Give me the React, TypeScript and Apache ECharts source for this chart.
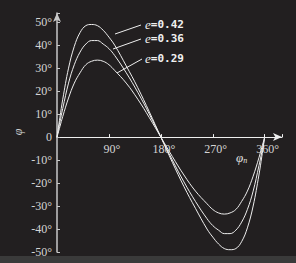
import React, { useEffect, useRef } from "react";
import * as echarts from "echarts";

// mean anomaly φn (deg)
const phiN = [0, 5, 10, 20, 30, 40, 50, 60, 70, 80, 90, 100, 120, 140, 160, 180, 200, 220, 240, 260, 270, 280, 290, 300, 310, 320, 330, 340, 350, 355, 360];
// φ (deg) for each eccentricity
const e042 = [0, 8.5, 16.5, 30, 39.5, 45.5, 48.5, 49, 48.5, 46.5, 43.5, 40, 31, 21.5, 11, 0, -11, -21.5, -31, -40, -43.5, -46.5, -48.5, -49, -48.5, -45.5, -39.5, -30, -16.5, -8.5, 0];
const e036 = [0, 6.5, 12.5, 23.5, 31.5, 37, 40.5, 42, 42, 40.5, 38.5, 35.5, 28, 19.5, 10, 0, -10, -19.5, -28, -35.5, -38.5, -40.5, -42, -42, -40.5, -37, -31.5, -23.5, -12.5, -6.5, 0];
const e029 = [0, 4.5, 9, 17, 23.5, 28, 31.5, 33, 33.5, 33, 31.5, 29, 23.5, 16.5, 8.5, 0, -8.5, -16.5, -23.5, -29, -31.5, -33, -33.5, -33, -31.5, -28, -23.5, -17, -9, -4.5, 0];
const seriesNames = ["e=0.42", "e=0.36", "e=0.29"];
const yTicks = [-50, -40, -30, -20, -10, 0, 10, 20, 30, 40, 50];
const xTicks = [90, 180, 270, 360];

const pairs = (vals: number[]) => phiN.map((x, i) => [x, vals[i]]);

export default function App() {
  const ref = useRef<HTMLDivElement>(null);
  useEffect(() => {
    document.body.style.margin = "0";
    const chart = echarts.init(ref.current!, null, { renderer: "svg" });
    const white = "#eeeeee";
    const labelFont = { fontFamily: "Liberation Serif", fontSize: 12, color: "#d4d4d4" };
    const rich = {
      i: { fontFamily: "Liberation Serif", fontStyle: "italic", fontSize: 13, fill: "#f0f0f0", color: "#f0f0f0" },
      t: { fontFamily: "DejaVu Sans Mono", fontSize: 11, fontWeight: "bold", fill: "#f0f0f0", color: "#f0f0f0" },
    };
    const leaders = [
      { x1: 115, y1: 34, x2: 141, y2: 25, ty: 24 },
      { x1: 113, y1: 49, x2: 141, y2: 39, ty: 38 },
      { x1: 117, y1: 73, x2: 142, y2: 59, ty: 58 },
    ];
    const graphics: any[] = [
      { type: "rect", shape: { x: 0, y: 256, width: 296, height: 7 }, style: { fill: "#3a3a3a" }, silent: true },
    ];
    leaders.forEach((l, i) => {
      graphics.push({ type: "line", shape: { x1: l.x1, y1: l.y1, x2: l.x2, y2: l.y2 }, style: { stroke: white, lineWidth: 1 } });
      graphics.push({
        type: "text",
        x: 145,
        y: l.ty,
        style: {
          text: "{i|e}{t|" + seriesNames[i].slice(1) + "}",
          rich,
          verticalAlign: "middle",
          fill: "#f0f0f0",
        },
      });
    });
    graphics.push({
      type: "text",
      x: 236,
      y: 157,
      style: {
        text: "{a|φ}{b|n}",
        rich: {
          a: { fontFamily: "Liberation Serif", fontStyle: "italic", fontSize: 13, fill: "#e0e0e0", color: "#e0e0e0" },
          b: { fontFamily: "Liberation Serif", fontStyle: "italic", fontSize: 8, fill: "#e0e0e0", color: "#e0e0e0", padding: [6, 0, 0, 0] },
        },
        verticalAlign: "middle",
        fill: "#e0e0e0",
      },
    });
    graphics.push({
      type: "text",
      x: 18,
      y: 132,
      rotation: Math.PI / 2,
      style: {
        text: "φ",
        font: "italic 12px 'Liberation Serif'",
        fill: "#cfcfcf",
        align: "center",
        verticalAlign: "middle",
      },
    });

    chart.setOption({
      animation: false,
      backgroundColor: "#221f20",
      grid: { left: 57, right: 14, top: 13, bottom: 11, containLabel: false },
      xAxis: {
        type: "value",
        min: 0,
        max: 390,
        interval: 90,
        axisLine: { onZero: true, symbol: ["none", "arrow"], symbolSize: [6, 9], lineStyle: { color: white, width: 1 } },
        axisTick: { inside: true, length: 3, lineStyle: { color: white } },
        splitLine: { show: false },
        axisLabel: { show: false },
      },
      yAxis: {
        type: "value",
        min: -50,
        max: 54,
        interval: 10,
        axisLine: { symbol: ["none", "arrow"], symbolSize: [6, 9], lineStyle: { color: "#c8c8c8", width: 1.5 } },
        axisTick: { inside: true, length: 3, lineStyle: { color: "#c8c8c8" } },
        splitLine: { show: false },
        axisLabel: {
          ...labelFont,
          margin: 5,
          formatter: (v: number) => (v === 0 ? "0" : yTicks.includes(v) ? v + "°" : ""),
        },
      },
      graphic: graphics,
      series: [e042, e036, e029].map((vals, i) => ({
        name: seriesNames[i],
        type: "line",
        data: pairs(vals),
        smooth: 0.4,
        symbol: "none",
        lineStyle: { color: white, width: 1 },
      })),
    });

    // x tick labels placed beside the zero line, positioned through the axis scale
    const xLabelGraphics = xTicks.map((v) => {
      const [px, py] = chart.convertToPixel({ gridIndex: 0 }, [v, 0]) as number[];
      return {
        type: "text",
        x: px + 3,
        y: py + 6,
        style: {
          text: v + "°",
          font: "12px 'Liberation Serif'",
          fill: "#d4d4d4",
          align: "center",
          verticalAlign: "top",
        },
      };
    });
    chart.setOption({ graphic: [...graphics, ...xLabelGraphics] });

    return () => chart.dispose();
  }, []);
  return <div ref={ref} style={{ width: 296, height: 263 }} />;
}
